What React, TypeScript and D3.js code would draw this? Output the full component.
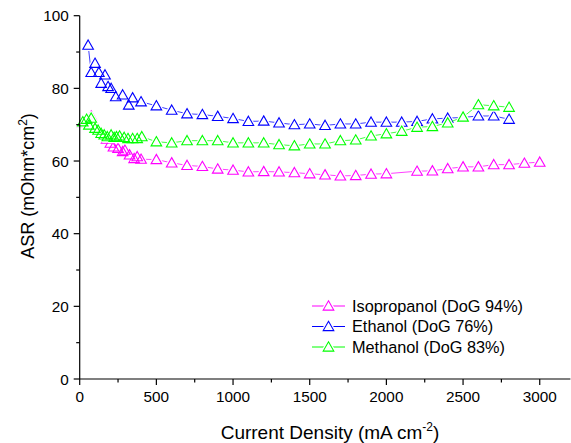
import React from "react";
import * as d3 from "d3";

const xTicks = [0, 500, 1000, 1500, 2000, 2500, 3000];
const yTicks = [0, 20, 40, 60, 80, 100];

const seriesNames = ["Isopropanol (DoG 94%)", "Ethanol (DoG 76%)", "Methanol (DoG 83%)"];
const seriesColors = ["#ff00ff", "#0000ff", "#00ff00"];

const isoX = [20, 75, 100, 140, 175, 200, 220, 250, 280, 295, 325, 355, 375, 400,
  500, 600, 700, 800, 900, 1000, 1100, 1200, 1300, 1400, 1500, 1600, 1700, 1800, 1900, 2000,
  2200, 2300, 2400, 2500, 2600, 2700, 2800, 2900, 3000];
const isoY = [70.5, 72.4, 69.6, 67.6, 66.0, 64.9, 63.9, 63.5, 62.6, 63.0, 61.7, 60.7, 61.2, 60.5,
  60.4, 59.5, 58.8, 58.5, 57.8, 57.5, 57.0, 57.1, 57.0, 56.8, 56.5, 56.2, 55.9, 56.0, 56.4, 56.5,
  57.2, 57.3, 57.9, 58.4, 58.4, 59.0, 59.0, 59.4, 59.7];

const ethX = [55, 75, 100, 125, 140, 165, 185, 205, 235, 280, 320, 345, 400,
  500, 600, 700, 800, 900, 1000, 1100, 1200, 1300, 1400, 1500, 1600, 1700, 1800, 1900, 2000,
  2100, 2200, 2300, 2400, 2500, 2600, 2700, 2800];
const ethY = [91.9, 84.4, 86.9, 84.4, 81.4, 83.7, 80.5, 80.0, 77.7, 78.2, 75.4, 77.4, 76.3,
  75.2, 74.0, 73.0, 72.8, 72.3, 71.7, 70.9, 71.0, 70.5, 70.0, 70.2, 69.8, 70.2, 70.2, 70.7, 70.7,
  70.7, 70.9, 71.6, 71.8, 72.0, 72.4, 72.4, 71.5];

const metX = [20, 45, 60, 75, 100, 120, 140, 160, 180, 205, 225, 240, 260, 290, 315, 345, 375, 405,
  500, 600, 700, 800, 900, 1000, 1100, 1200, 1300, 1400, 1500, 1600, 1700, 1800, 1900, 2000,
  2100, 2200, 2300, 2400, 2500, 2600, 2700, 2800];
const metY = [70.8, 71.5, 69.9, 71.8, 69.0, 68.5, 67.6, 67.2, 66.7, 67.2, 66.5, 66.7, 66.9, 66.5, 66.2, 66.2, 66.2, 66.7,
  65.3, 65.0, 65.6, 65.6, 65.6, 65.0, 65.0, 65.0, 64.5, 64.2, 64.7, 64.7, 65.6, 65.8, 66.9, 67.5,
  68.2, 69.3, 69.5, 70.5, 72.1, 75.5, 75.2, 74.8];

const W = 571, H = 443;
const L = 79.7, R = 570.4, T = 15.7, B = 379;
const FONT = "'Liberation Sans', Arial, sans-serif";

function tri(cx: number, cy: number) {
  const hw = 5.3, up = 5.2, dn = 4.1;
  return `M${cx},${cy - up}L${cx + hw},${cy + dn}L${cx - hw},${cy + dn}Z`;
}

export default function App() {
  const x = d3.scaleLinear().domain([0, 3200]).range([L, R]);
  const y = d3.scaleLinear().domain([0, 100]).range([B, T]);
  const line = d3.line<[number, number]>().x(d => x(d[0])).y(d => y(d[1]));

  const series = [
    { xs: isoX, ys: isoY },
    { xs: ethX, ys: ethY },
    { xs: metX, ys: metY },
  ];
  const drawOrder = [0, 1, 2];

  const xMinor = d3.range(250, 3200, 500);
  const yMinor = d3.range(10, 100, 20);

  return (
    <svg width={W} height={H} style={{ position: "absolute", left: 0, top: 0, background: "#fff" }}
      fontFamily={FONT}>
      {drawOrder.map(i => {
        const s = series[i];
        const pts = s.xs.map((v, k) => [v, s.ys[k]] as [number, number]);
        return (
          <g key={i}>
            <path d={line(pts) || ""} fill="none" stroke={seriesColors[i]} strokeWidth={1} strokeOpacity={0.75} />
            {pts.map((p, k) => (
              <path key={"h" + k} d={tri(x(p[0]), y(p[1]))} fill="#fff" stroke="#fff" strokeWidth={3.5} strokeLinejoin="round" />
            ))}
            {pts.map((p, k) => (
              <path key={"m" + k} d={tri(x(p[0]), y(p[1]))} fill="none" stroke={seriesColors[i]} strokeWidth={1.1} />
            ))}
          </g>
        );
      })}

      {/* axes */}
      <line x1={L} x2={L} y1={T} y2={B} stroke="#000" strokeWidth={1.2} />
      <line x1={L} x2={R} y1={B} y2={B} stroke="#000" strokeWidth={1.2} />
      {yTicks.map(t => (
        <g key={"yt" + t}>
          <line x1={L - 6} x2={L} y1={y(t)} y2={y(t)} stroke="#000" strokeWidth={1.2} />
          <text x={L - 11} y={y(t)} dy="0.36em" textAnchor="end" fontSize={15.3}>{t}</text>
        </g>
      ))}
      {yMinor.map(t => (
        <line key={"ym" + t} x1={L - 3.5} x2={L} y1={y(t)} y2={y(t)} stroke="#000" strokeWidth={1.2} />
      ))}
      {xTicks.map(t => (
        <g key={"xt" + t}>
          <line x1={x(t)} x2={x(t)} y1={B} y2={B + 6} stroke="#000" strokeWidth={1.2} />
          <text x={x(t)} y={B + 23} textAnchor="middle" fontSize={15.3}>{t}</text>
        </g>
      ))}
      {xMinor.map(t => (
        <line key={"xm" + t} x1={x(t)} x2={x(t)} y1={B} y2={B + 3.5} stroke="#000" strokeWidth={1.2} />
      ))}

      {/* axis titles */}
      <text x={330} y={439} textAnchor="middle" fontSize={19}>
        Current Density (mA cm<tspan dy={-8} fontSize={12}>-2</tspan><tspan dy={8}>)</tspan>
      </text>
      <text transform={`translate(34,186) rotate(-90)`} textAnchor="middle" fontSize={18}>
        ASR (mOhm*cm<tspan dy={-7} fontSize={12}>2</tspan><tspan dy={7}>)</tspan>
      </text>

      {/* legend */}
      {seriesNames.map((n, i) => {
        const ly = 306 + i * 20.5;
        return (
          <g key={"lg" + i}>
            <line x1={312} x2={345} y1={ly} y2={ly} stroke={seriesColors[i]} strokeWidth={1} />
            <path d={tri(328.5, ly)} fill="#fff" stroke="#fff" strokeWidth={3.5} />
            <path d={tri(328.5, ly)} fill="none" stroke={seriesColors[i]} strokeWidth={1.1} />
            <text x={352} y={ly} dy="0.36em" fontSize={16.3}>{n}</text>
          </g>
        );
      })}
    </svg>
  );
}
